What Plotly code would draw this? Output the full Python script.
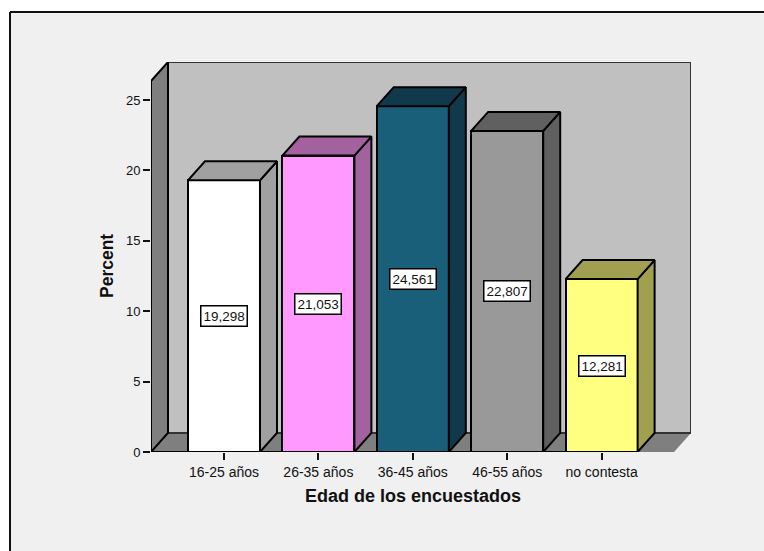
import plotly.graph_objects as go

# Survey results: share of respondents per age group
categories = ["16-25 años", "26-35 años", "36-45 años", "46-55 años", "no contesta"]
percents = [19.298, 21.053, 24.561, 22.807, 12.281]
front_colors = ["#ffffff", "#ff99ff", "#1a5f7a", "#999999", "#ffff80"]
shade_colors = ["#a0a0a0", "#a3619f", "#10394b", "#606060", "#a0a050"]
y_ticks = [0, 5, 10, 15, 20, 25]

# Box extents and oblique offset of the pseudo-3D chart, in axis units
X_MIN, X_MAX = -0.773, 4.947
Y_MAX = 27.7
DEPTH_X = 0.18
DEPTH_Y = 1.35
BAR_WIDTH = 0.763

WALL = "#c0c0c0"
SIDE = "#7f7f7f"
PANEL = "#f0f0f0"
FONT = "Liberation Sans, Arial, sans-serif"
INK = "#111111"

# Plot box inside the page, used for placing items outside the axes
PLOT_W, PLOT_H = 540, 390
PANEL_LEFT = -141 / PLOT_W
PANEL_RIGHT = 1 + 73 / PLOT_W
PANEL_TOP = 1 + 50 / PLOT_H
PANEL_BOTTOM = -99 / PLOT_H


def polygon(xs, ys, fill, line="#000000", width=2):
    path = "M " + " L ".join(f"{x},{y}" for x, y in zip(xs, ys)) + " Z"
    return dict(type="path", path=path, xref="x", yref="y", fillcolor=fill,
                line=dict(color=line, width=width), layer="below")


def segment(x0, y0, x1, y1, color="#000000", width=2):
    return dict(type="line", x0=x0, y0=y0, x1=x1, y1=y1, xref="x", yref="y",
                line=dict(color=color, width=width), layer="below")


def face_trace(xs, ys, fill):
    return go.Scatter(x=xs + xs[:1], y=ys + ys[:1], mode="lines", fill="toself",
                      fillcolor=fill, line=dict(color="#000000", width=2),
                      hoverinfo="skip", showlegend=False, cliponaxis=False)


fig = go.Figure()

# Front faces of the columns
fig.add_trace(go.Bar(
    x=list(range(len(categories))), y=percents, width=BAR_WIDTH,
    marker=dict(color=front_colors, line=dict(color="#000000", width=2)),
    showlegend=False,
))

# Right and top faces follow from the same values
for i, value in enumerate(percents):
    right = i + BAR_WIDTH / 2
    left = i - BAR_WIDTH / 2
    fig.add_trace(face_trace(
        [right, right + DEPTH_X, right + DEPTH_X, right],
        [0, DEPTH_Y, value + DEPTH_Y, value], shade_colors[i]))
    fig.add_trace(face_trace(
        [left, left + DEPTH_X, right + DEPTH_X, right],
        [value, value + DEPTH_Y, value + DEPTH_Y, value], shade_colors[i]))

back_left = X_MIN + DEPTH_X
front_right = X_MAX - DEPTH_X
shapes = [
    # Panel behind the chart, open towards the right and bottom
    dict(type="rect", xref="paper", yref="paper", x0=PANEL_LEFT, x1=PANEL_RIGHT,
         y0=PANEL_BOTTOM, y1=PANEL_TOP, fillcolor=PANEL, line=dict(width=0), layer="below"),
    dict(type="line", xref="paper", yref="paper", x0=PANEL_LEFT, x1=PANEL_RIGHT,
         y0=PANEL_TOP, y1=PANEL_TOP, line=dict(color=INK, width=2), layer="below"),
    dict(type="line", xref="paper", yref="paper", x0=PANEL_LEFT, x1=PANEL_LEFT,
         y0=PANEL_BOTTOM, y1=PANEL_TOP, line=dict(color=INK, width=2), layer="below"),
    # Back wall, floor and left wall of the box
    polygon([back_left, X_MAX, X_MAX, back_left], [DEPTH_Y, DEPTH_Y, Y_MAX, Y_MAX], WALL,
            line="#333333"),
    polygon([X_MIN, back_left, X_MAX, front_right], [0, DEPTH_Y, DEPTH_Y, 0], SIDE,
            line=SIDE, width=0),
    segment(back_left, DEPTH_Y, X_MAX, DEPTH_Y, "#333333"),
    polygon([X_MIN, back_left, back_left, X_MIN], [0, DEPTH_Y, Y_MAX, Y_MAX - DEPTH_Y], SIDE),
    segment(X_MIN, 0, len(categories) - 1 + BAR_WIDTH / 2, 0),
]

# Value labels sit at mid-height of each column
annotations = [
    dict(x=i, y=value / 2, xref="x", yref="y", text=f"{value:.3f}".replace(".", ","),
         showarrow=False, bgcolor="#ffffff", bordercolor="#000000", borderwidth=1.5,
         borderpad=2, font=dict(family=FONT, size=13.5, color=INK))
    for i, value in enumerate(percents)
]

# Axis titles
annotations += [
    dict(x=(413 - 151) / PLOT_W, y=-(496 - 452) / PLOT_H, xref="paper", yref="paper",
         xanchor="center", yanchor="middle",
         text="<b>Edad de los encuestados</b>", showarrow=False,
         font=dict(family=FONT, size=18, color=INK)),
    dict(x=(107 - 151) / PLOT_W, y=(452 - 266) / PLOT_H, xref="paper", yref="paper",
         xanchor="center", yanchor="middle",
         text="<b>Percent</b>", textangle=-90, showarrow=False,
         font=dict(family=FONT, size=17.5, color=INK)),
]

fig.update_layout(
    width=764, height=551,
    margin=dict(l=151, r=73, t=62, b=99, autoexpand=False),
    paper_bgcolor="#ffffff", plot_bgcolor="rgba(0,0,0,0)",
    font=dict(family=FONT, color=INK),
    shapes=shapes, annotations=annotations, bargap=0, showlegend=False,
    xaxis=dict(
        range=[X_MIN, X_MAX], tickmode="array", tickvals=list(range(len(categories))),
        ticktext=categories, ticks="outside", ticklen=7, tickwidth=1.5, tickcolor=INK,
        showgrid=False, zeroline=False, showline=False,
        tickfont=dict(family=FONT, size=14, color=INK),
    ),
    yaxis=dict(
        range=[0, Y_MAX], tickmode="array", tickvals=y_ticks, ticks="outside", ticklen=7,
        tickwidth=1.5, tickcolor=INK, showgrid=False, zeroline=False, showline=False,
        tickfont=dict(family=FONT, size=13, color=INK),
    ),
)

fig.write_html("out.html", config=dict(displayModeBar=False))
